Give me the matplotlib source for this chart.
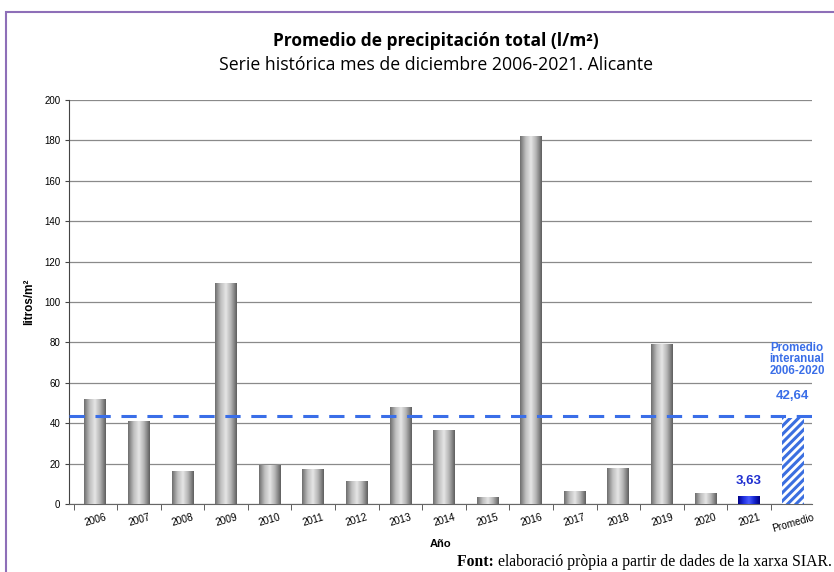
import numpy as np
import matplotlib.pyplot as plt
from matplotlib.colors import LinearSegmentedColormap
from matplotlib.patches import Rectangle

years = ['2006', '2007', '2008', '2009', '2010', '2011', '2012', '2013',
         '2014', '2015', '2016', '2017', '2018', '2019', '2020', '2021']
rain = [52.0, 41.0, 16.0, 109.4, 19.0, 17.0, 11.0, 48.0,
        36.6, 3.0, 182.0, 6.0, 17.8, 79.0, 5.0, 3.63]
promedio = 42.64
labels = years + ['Promedio']

plt.rcParams['hatch.linewidth'] = 2.2

fig = plt.figure(figsize=(8.34, 5.72), dpi=100)
ax = fig.add_axes([0.083, 0.119, 0.891, 0.706])

# cylinder look: horizontal gradient inside each bar
gray = LinearSegmentedColormap.from_list('cyl', ['#6e6e6e', '#bdbdbd', '#e6e6e6', '#b0b0b0', '#5f5f5f'])
blue = LinearSegmentedColormap.from_list('cylb', ['#00008a', '#1f2fe0', '#4a5cff', '#1525d0', '#000080'])
grad = np.linspace(0, 1, 64).reshape(1, -1)
w = 0.5

for i, v in enumerate(rain):
    cm = blue if years[i] == '2021' else gray
    ax.imshow(grad, cmap=cm, aspect='auto', extent=(i - w / 2, i + w / 2, 0, v), zorder=3)

n = len(years)
ax.bar(n, promedio, width=w, color='white', edgecolor='#3b6fe0', hatch='////', linewidth=0, zorder=3)

ax.axhline(promedio + 0.9, color='#3a6ee8', linestyle=(0, (5, 3.5)), linewidth=2.2, zorder=4)

ax.text(15, rain[15] + 5, '3,63', color='#1f2fd0', fontsize=9.5, fontweight='bold',
        ha='center', va='bottom', family='Liberation Sans')
ax.text(n, promedio + 8, '42,64', color='#3a6ee8', fontsize=9.5, fontweight='bold',
        ha='center', va='bottom', family='Liberation Sans')
ax.text(n + 0.1, 63, 'Promedio\ninteranual\n2006-2020', color='#3a6ee8', fontsize=8.3,
        fontweight='bold', ha='center', va='bottom', linespacing=0.95, family='Liberation Sans')

ax.set_xlim(-0.6, n + 0.45)
ax.set_ylim(0, 200)
ax.set_yticks(range(0, 201, 20))
ax.yaxis.grid(True, color='#8a8a8a', linewidth=0.9)
ax.set_axisbelow(True)

ax.set_xticks(np.arange(-0.5, n + 0.5, 1), minor=True)
ax.set_xticks(range(n + 1))
ax.set_xticklabels(labels, rotation=16, fontsize=7.3, family='Liberation Sans')
ax.tick_params(axis='x', which='major', length=0, pad=6)
ax.tick_params(axis='x', which='minor', length=4, direction='out', color='#444444')
ax.tick_params(axis='y', labelsize=7, length=3, color='#444444')
for t in ax.get_yticklabels():
    t.set_family('Liberation Sans')

for s in ['top', 'right']:
    ax.spines[s].set_visible(False)
ax.spines['left'].set_color('#444444')
ax.spines['bottom'].set_color('#666666')

ax.set_xlabel('Año', fontsize=8, fontweight='bold', family='Liberation Sans', labelpad=4)
ax.set_ylabel('litros/m²', fontsize=8.5, fontweight='bold', family='Liberation Sans', labelpad=6)

fig.text(0.523, 0.928, 'Promedio de precipitación total (l/m²)', ha='center', va='center',
         fontsize=12.5, fontweight='bold', family='Open Sans')
fig.text(0.523, 0.887, 'Serie histórica mes de diciembre 2006-2021. Alicante', ha='center',
         va='center', fontsize=12.7, family='Open Sans')

src = fig.text(0.997, 0.017, 'elaboració pròpia a partir de dades de la xarxa SIAR.', ha='right',
               va='center', fontsize=11.3, family='Liberation Serif')
ax.annotate('Font: ', xy=(0, 0.5), xycoords=src, ha='right', va='center',
            fontsize=11.3, fontweight='bold', family='Liberation Serif', annotation_clip=False)

fig.patches.append(Rectangle((0.007, -0.05), 1.0, 1.029, transform=fig.transFigure,
                             fill=False, edgecolor='#8e6fb8', linewidth=1.5))

fig.savefig('out.png', dpi=100)
